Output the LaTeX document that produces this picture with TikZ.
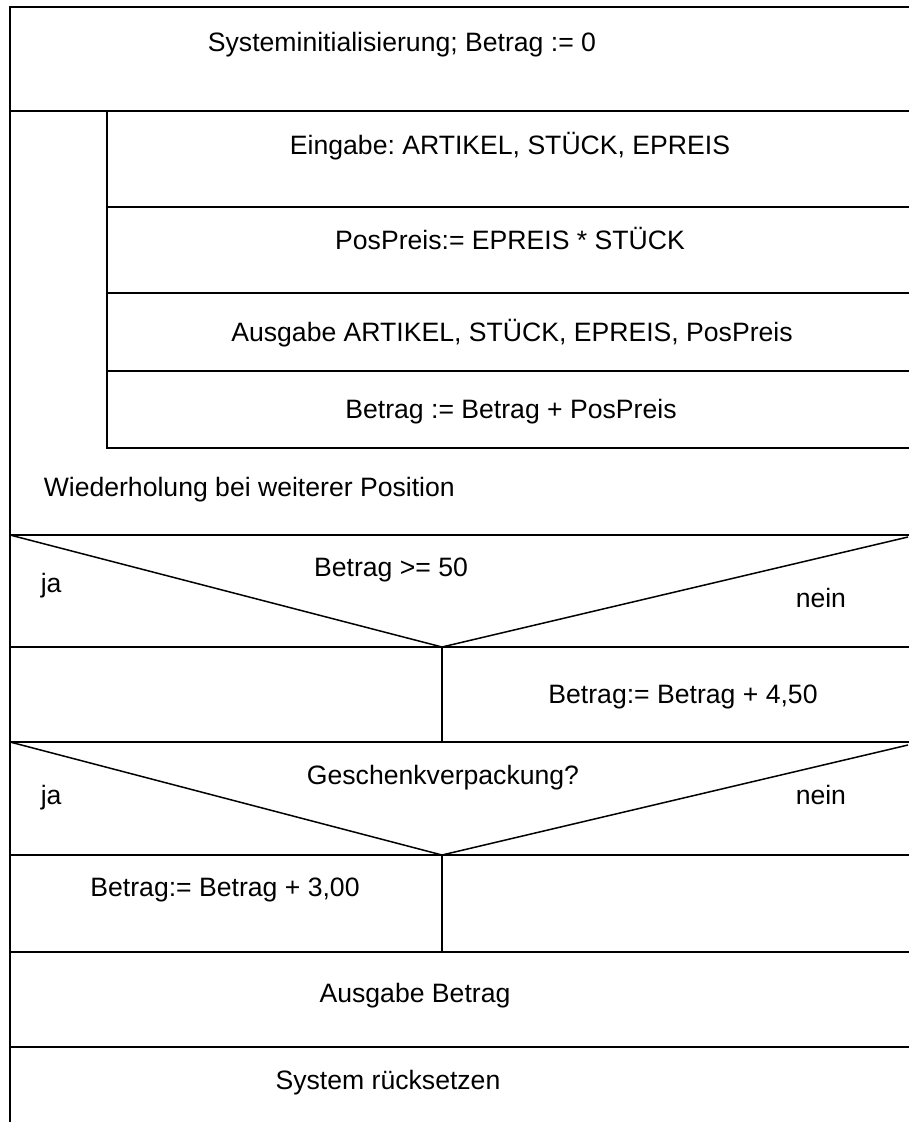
\documentclass[tikz,border=0pt]{standalone}
\usepackage{fontspec}
\setmainfont{Liberation Sans}
\frenchspacing
\begin{document}
\begin{tikzpicture}[x=1pt,y=-1pt,line width=1.5pt,
  txt/.style={font=\fontsize{26.6}{32}\selectfont,inner sep=0pt,anchor=base},
  ltxt/.style={txt,anchor=base west}]
\useasboundingbox (0,0) rectangle (909,1122);
% frame and separators
\draw (10,1122) -- (10,7) -- (909,7);
\draw (10,111) -- (909,111);
\draw (107,111) -- (107,449);
\foreach \yy in {207,293,371,448} \draw (107,\yy) -- (909,\yy);
\draw (10,535) -- (909,535);
\draw (10,535) -- (442,647) -- (908,537);
\draw (10,647) -- (909,647);
\draw (442,647) -- (442,742);
\draw (10,742) -- (909,742);
\draw (10,742) -- (442,855) -- (908,745);
\draw (10,855) -- (909,855);
\draw (442,855) -- (442,952);
\draw (10,952) -- (909,952);
\draw (10,1047) -- (909,1047);
% texts
\node[txt] (init) at (402,51) {Systeminitialisierung; Betrag := 0};
\node[txt] (ein) at (510,154) {Eingabe: ARTIKEL, STÜCK, EPREIS};
\node[txt] (pos) at (510,249) {PosPreis:= EPREIS * STÜCK};
\node[txt] (aus) at (512,341) {Ausgabe ARTIKEL, STÜCK, EPREIS, PosPreis};
\node[txt] (sum) at (511,418) {Betrag := Betrag + PosPreis};
\node[ltxt] (wdh) at (43,496) {Wiederholung bei weiterer Position};
\node[txt] (c1) at (391,576) {Betrag >= 50};
\node[ltxt] (ja1) at (40,592) {ja};
\node[ltxt] (nein1) at (795,607) {nein};
\node[txt] (p450) at (683,703) {Betrag:= Betrag + 4,50};
\node[txt] (c2) at (443,784) {Geschenkverpackung?};
\node[ltxt] (ja2) at (40,804) {ja};
\node[ltxt] (nein2) at (795,804) {nein};
\node[txt] (p300) at (225,896) {Betrag:= Betrag + 3,00};
\node[txt] (ausb) at (415,1002) {Ausgabe Betrag};
\node[txt] (reset) at (388,1089) {System rücksetzen};
\end{tikzpicture}
\end{document}
